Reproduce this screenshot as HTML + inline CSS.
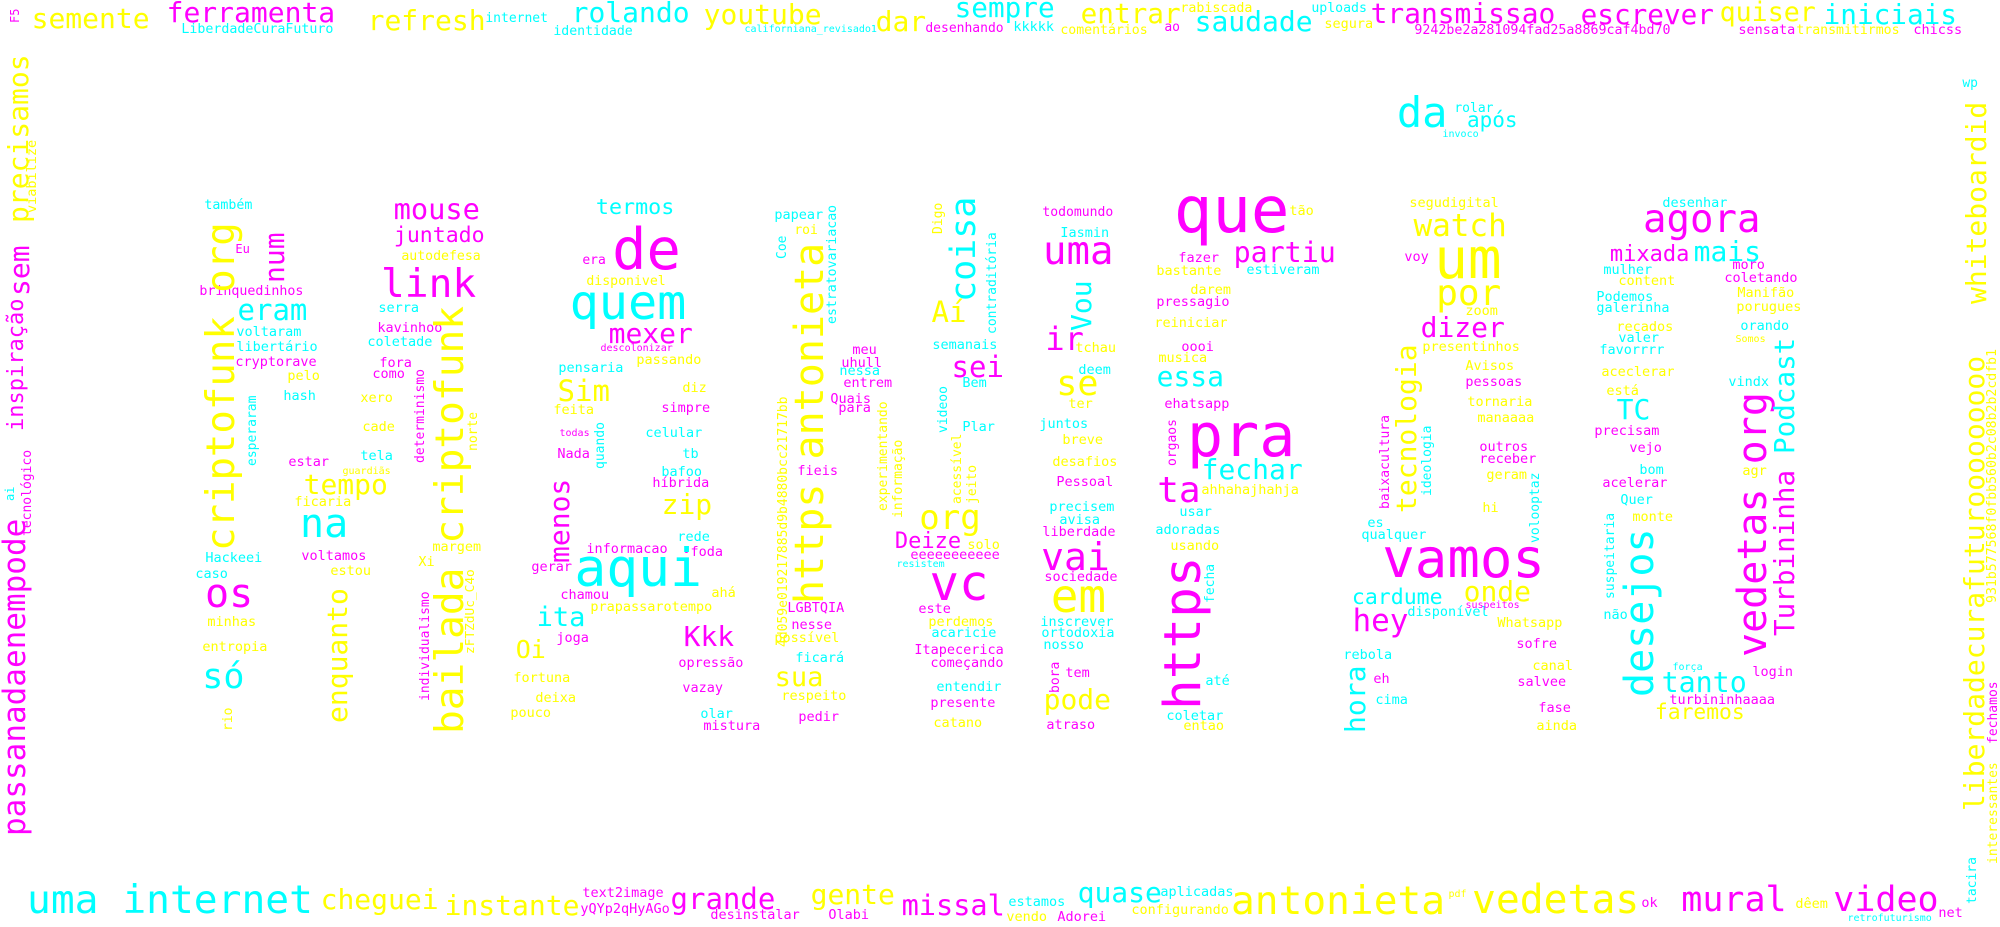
<!DOCTYPE html>
<html><head><meta charset="utf-8">
<style>
html,body{margin:0;padding:0;background:#fff;}
#cloud{position:relative;width:2000px;height:927px;overflow:hidden;background:#fff;font-family:"DejaVu Sans Mono","Liberation Mono",monospace;}
.w{position:absolute;white-space:nowrap;line-height:1;}
.v{transform-origin:0 0;transform:rotate(-90deg);}
</style></head>
<body>
<div id="cloud"></div>
<script>
const C={c:"#00ffff",m:"#ff00ff",y:"#ffff00"};
// horizontal words: text, left, baseline, font-size, colour
const hWords=[
["semente",33,29,28,"y"],["ferramenta",168,23,28,"m"],["refresh",369,31,28,"y"],["LiberdadeCuraFuturo",182,34,13.3,"c"],
["internet",486,23,13,"c"],["rolando",573,23,28,"c"],["identidade",554,36,13.2,"c"],["youtube",705,25,28,"y"],
["californiana_revisado1",745,33,10,"c"],["dar",877,32,28,"y"],["sempre",956,17,27.7,"c"],["desenhando",926,33,13,"m"],
["kkkkk",1014,32,13.5,"c"],["entrar",1082,23,27.7,"y"],["rabiscada",1181,13,13.3,"y"],["comentários",1061,35,13.2,"y"],
["ao",1165,32,13,"m"],["saudade",1196,32,28,"c"],["uploads",1312,13,13.2,"c"],["segura",1325,29,13.5,"y"],
["transmissao",1372,24,27.9,"m"],["9242be2a281094fad25a8869caf4bd70",1415,35,13.3,"m"],["escrever",1582,24,27.7,"m"],
["quiser",1721,22,26.6,"y"],["iniciais",1825,24,27.7,"c"],["sensata",1739,35,13.5,"m"],["transmitirmos",1797,35,13.2,"y"],
["chicss",1914,35,13.5,"m"],["wp",1963,88,13,"c"],
["também",205,210,13.3,"c"],["Eu",236,253,12,"m"],["brinquedinhos",200,296,13.3,"m"],["mouse",395,219,28.7,"m"],
["juntado",395,243,21.5,"m"],["autodefesa",402,261,13.2,"y"],["link",383,298,39.5,"m"],
["termos",597,215,21.7,"c"],["de",615,270,57,"m"],["era",583,265,13,"m"],["disponivel",587,286,13.2,"y"],["quem",572,320,48.5,"c"],
["papear",775,220,13.5,"c"],["roi",795,235,13,"y"],
["da",1399,128,42,"c"],["rolar",1455,113,13,"c"],["após",1468,128,21,"c"],["invoco",1443,138,10,"c"],
["que",1177,233,64,"m"],["todomundo",1043,217,13.1,"m"],["tão",1290,216,13.5,"y"],["Iasmin",1061,238,13.5,"c"],
["uma",1045,265,39,"m"],["fazer",1179,263,13.5,"m"],["partiu",1235,263,28.3,"m"],["bastante",1157,276,13.5,"y"],
["estiveram",1247,275,13.5,"c"],["darem",1191,295,13.5,"y"],["pressagio",1157,307,13.5,"m"],["segudigital",1410,208,13.5,"y"],
["watch",1415,237,31,"y"],["voy",1405,262,13.5,"m"],["um",1437,279,56,"y"],["por",1438,306,36,"y"],
["desenhar",1663,208,13.5,"c"],["agora",1645,233,39,"m"],["mixada",1611,263,22,"m"],["mais",1695,262,28,"c"],
["mulher",1604,275,13.5,"c"],["moro",1733,270,13.5,"m"],["content",1619,286,13.5,"y"],["coletando",1725,283,13.5,"m"],
["Podemos",1597,302,13.5,"c"],["Manifão",1738,298,13.5,"y"],["galerinha",1597,313,13.5,"c"],["porugues",1737,312,13.5,"y"],
["recados",1617,332,13.5,"y"],["valer",1619,343,13.5,"c"],["favorrrr",1600,355,13.5,"c"],["aceclerar",1602,377,13.5,"y"],
["está",1607,396,13.5,"y"],["TC",1618,420,28,"c"],["precisam",1595,436,13.5,"m"],["vejo",1630,453,13.5,"m"],["bom",1640,475,13.5,"c"],
["acelerar",1603,488,13.5,"m"],["Quer",1621,505,13.5,"c"],["monte",1633,522,13.5,"y"],["orando",1741,331,13.5,"c"],
["Somos",1736,343,10,"y"],["vindx",1729,387,13.5,"c"],["agr",1743,476,13.5,"y"],
["tanto",1663,693,28.3,"c"],["faremos",1656,720,21.3,"y"],["turbininhaaaa",1670,705,13.5,"m"],["força",1673,671,10,"c"],
["login",1753,677,13.5,"m"],["não",1604,620,13.5,"c"],["Whatsapp",1498,628,13.5,"y"],["sofre",1517,649,13.5,"m"],
["canal",1533,671,13.5,"y"],["salvee",1518,687,13.5,"m"],["fase",1539,713,13.5,"m"],["ainda",1537,731,13.5,"y"],
["disponível",1408,617,13.5,"c"],["suspeitos",1466,609,10,"m"],
["vedetas",1474,915,39.7,"y"],["pdf",1449,898,10,"y"],["ok",1642,908,13.5,"m"],["mural",1683,913,35,"m"],["dêem",1796,909,13.5,"y"],
["video",1835,913,35,"m"],["net",1939,918,13.5,"m"],["retrofuturismo",1848,922,10,"c"],
["grande",672,910,29,"m"],["gente",812,905,28,"y"],["missal",903,915,28.6,"m"],["estamos",1009,907,13.5,"c"],["quase",1079,903,28,"c"],
["aplicadas",1161,897,13.5,"c"],["configurando",1132,915,13.5,"y"],["antonieta",1233,915,39.5,"y"],["desinstalar",711,920,13.5,"m"],
["Olabi",829,920,13.5,"m"],["vendo",1007,922,13.5,"y"],["Adorei",1058,922,13.5,"m"],
["nesse",792,630,13.5,"m"],["possível",775,643,13.5,"y"],["ficará",796,663,13.5,"c"],["opressão",679,668,13.5,"m"],
["sua",776,687,27,"y"],["respeito",782,701,13.5,"y"],["vazay",683,693,13.5,"m"],["olar",701,719,13.5,"c"],["mistura",704,731,13.5,"m"],
["pedir",799,722,13.5,"m"],["perdemos",929,627,13.5,"y"],["acaricie",932,638,13.5,"c"],["Itapecerica",915,655,13.5,"m"],
["começando",931,668,13.5,"m"],["entendir",937,692,13.5,"c"],["presente",931,708,13.5,"m"],["catano",934,728,13.5,"y"],
["este",919,614,13.5,"m"],["inscrever",1041,627,13.5,"c"],["ortodoxia",1042,638,13.5,"c"],["nosso",1044,650,13.5,"c"],
["tem",1066,678,13.5,"m"],["pode",1045,710,28,"y"],["atraso",1047,730,13.5,"m"],["até",1206,686,13.5,"c"],
["coletar",1167,721,13.5,"c"],["entao",1184,731,13.5,"y"],["hey",1354,632,31,"m"],["rebola",1344,660,13.5,"c"],
["eh",1374,684,13.5,"m"],["cima",1376,705,13.5,"c"],["LGBTQIA",788,613,13.5,"m"],
["uma internet",29,915,39.6,"c"],["cheguei",322,910,28,"y"],["instante",446,916,28,"y"],["text2image",583,898,13.5,"m"],
["yQYp2qHyAGo",581,914,13.5,"m"],["minhas",208,627,13.5,"y"],["entropia",203,652,13.5,"y"],["só",204,690,35,"c"],
["ita",538,627,27,"c"],["Oi",517,658,25,"y"],["joga",557,643,13.5,"m"],["fortuna",514,683,13.5,"y"],["deixa",536,703,13.5,"y"],
["pouco",511,718,13.5,"y"],["prapassarotempo",591,612,13.5,"y"],["Kkk",685,647,28,"m"],
["eram",239,321,29,"c"],["voltaram",237,337,13.5,"c"],["libertário",237,352,13.5,"c"],["cryptorave",236,367,13.5,"m"],
["pelo",288,381,13.5,"y"],["hash",284,401,13.5,"c"],["estar",289,467,13.5,"m"],["tempo",305,495,28,"y"],["ficaria",295,507,13.5,"y"],
["na",302,538,40,"c"],["Hackeei",206,563,13.5,"c"],["caso",196,579,13.5,"c"],["voltamos",302,561,13.5,"m"],["estou",331,576,13.5,"y"],
["os",207,608,40,"m"],["serra",379,313,13.5,"c"],["kavinhoo",378,333,13.5,"m"],["coletade",368,347,13.5,"c"],["fora",380,368,13.5,"m"],
["como",373,379,13.5,"m"],["xero",361,403,13.5,"y"],["cade",363,432,13.5,"y"],["tela",361,461,13.5,"c"],["guardiãs",343,475,10,"y"],
["margem",433,552,13.5,"y"],["Xi",419,567,13.5,"y"],
["mexer",610,344,28,"m"],["descolonizar",601,352,10,"m"],["pensaria",559,373,13.5,"c"],["passando",637,365,13.5,"y"],
["Sim",559,402,29,"y"],["diz",683,393,13.5,"y"],["feita",554,415,13.5,"y"],["simpre",662,413,13.5,"m"],["todas",560,437,10,"m"],
["celular",646,438,13.5,"c"],["Nada",558,459,13.5,"m"],["tb",683,459,13.5,"c"],["bafoo",662,477,13.5,"c"],["híbrida",653,488,13.5,"m"],
["zip",663,515,28,"y"],["rede",678,542,13.5,"c"],["informacao",587,554,13.5,"m"],["•foda",683,557,13.5,"m"],["gerar",532,572,13.5,"m"],
["aqui",577,587,53,"c"],["chamou",561,600,13.5,"m"],["ahá",712,598,13.5,"y"],
["meu",853,355,13.5,"m"],["uhull",842,368,13.5,"m"],["nessa",840,376,13.5,"c"],["entrem",844,388,13.5,"m"],["Quais",831,404,13.5,"m"],
["para",839,413,13.5,"m"],["fieis",798,476,13.5,"m"],["semanais",933,350,13.5,"c"],["Aí",933,323,29,"y"],["sei",953,378,29,"m"],
["Bem",963,388,13.5,"c"],["Plar",963,432,13.5,"c"],["org",921,530,34,"y"],["Deize",896,550,22,"m"],["solo",968,550,13.5,"y"],
["eeeeeeeeeee",911,560,13.5,"m"],["resistem",897,568,10,"c"],["vc",932,600,49,"m"],
["ir",1047,350,32,"m"],["tchau",1076,353,13.5,"y"],["deem",1079,375,13.5,"c"],["se",1058,397,35,"y"],["ter",1069,409,13.5,"y"],
["juntos",1040,429,13.5,"c"],["breve",1063,445,13.5,"y"],["desafios",1053,467,13.5,"y"],["Pessoal",1057,487,13.5,"m"],
["precisem",1050,512,13.5,"c"],["avisa",1060,525,13.5,"c"],["liberdade",1043,537,13.5,"m"],["vai",1043,570,38,"m"],
["sociedade",1045,582,13.5,"m"],["em",1053,612,46,"y"],["reiniciar",1155,328,13.5,"y"],["oooi",1182,352,13.5,"m"],
["musica",1159,363,13.5,"y"],["essa",1158,387,28,"c"],["ehatsapp",1165,409,13.5,"m"],["pra",1190,457,60,"m"],
["fechar",1203,480,28,"c"],["ta",1159,503,36,"m"],["ahhahajhahja",1202,495,13.5,"y"],["usar",1180,517,13.5,"c"],
["adoradas",1156,535,13.5,"c"],["usando",1171,551,13.5,"y"],["dizer",1422,338,28,"m"],["zoom",1466,316,13.5,"y"],
["presentinhos",1423,352,13.5,"y"],["Avisos",1466,371,13.5,"y"],["pessoas",1466,387,13.5,"m"],["tornaria",1468,407,13.5,"y"],
["manaaaa",1478,423,13.5,"y"],["outros",1480,452,13.5,"m"],["receber",1480,464,13.5,"m"],["geram",1487,480,13.5,"y"],
["hi",1483,513,13.5,"y"],["es",1368,528,13.5,"c"],["qualquer",1362,540,13.5,"c"],["vamos",1385,578,54,"m"],
["cardume",1353,605,21.5,"c"],["onde",1465,602,28,"y"]
];
// vertical words (read bottom to top): text, left, bottom, font-size, colour
const vWords=[
["F5",10,22,12,"m"],["precisamos",7,222,28,"y"],["viabilize",27,212,13.5,"y"],["criptofunk org",205,549,39,"y"],["num",263,282,28,"m"],
["sem",8,295,28,"m"],["inspiração",8,430,22,"m"],["ai",5,500,12,"c"],["tecnológico",22,535,13,"m"],["passanadaenempode",3,834,31,"m"],
["Coe",777,258,13,"c"],["https antonieta",793,602,40,"y"],["estratovariacao",827,323,13.2,"c"],["Digo",933,233,13,"y"],
["coisa",950,300,35,"c"],["contraditória",987,333,13,"c"],["whiteboardid",1965,303,28,"y"],
["vedetas org",1736,655,40,"m"],["Podcast",1773,453,27.6,"c"],["Turbininha",1773,635,27.6,"m"],
["liberdadecurafuturooooooooo",1963,810,28,"y"],["931b577568f0fbb560b2c08b2b2cdfb1",1987,602,13.2,"y"],
["suspeitaria",1605,598,13,"c"],["volooptaz",1530,542,13,"c"],["desejos",1623,695,40,"c"],
["fechamos",1988,743,13,"m"],["interessantes",1988,863,13,"y"],["tacira",1967,903,13,"c"],
["4d059e019217885d9b4880bcc21717bb",778,646,13,"y"],["bora",1050,692,13,"m"],["https",1162,707,51,"m"],["hora",1344,732,28,"c"],
["rio",223,730,13,"y"],["enquanto",326,722,28,"y"],["individualismo",420,700,13,"m"],["bailada criptofunk",434,732,39.5,"y"],
["zFTZdUc_C4o",466,653,12.8,"y"],["esperaram",247,465,13,"c"],["determinismo",415,462,13,"m"],["norte",468,450,13,"y"],
["quando",595,468,13,"c"],["menos",548,562,28,"m"],["experimentando",878,510,13,"y"],["informação",893,517,13,"y"],
["videoo",938,432,13,"c"],["acessível",952,503,13,"y"],["jeito",967,503,13,"y"],["Vou",1070,330,28,"c"],
["orgaos",1167,465,13,"m"],["fecha",1205,602,13,"c"],["baixacultura",1380,508,13,"m"],["ideologia",1422,495,13,"c"],
["tecnologia",1395,512,28,"y"]
];
const cloud=document.getElementById('cloud');
function slug(t){return t.toLowerCase().normalize('NFD').replace(/[^a-z0-9]+/g,'-').replace(/^-|-$/g,'').slice(0,30)||'word';}
hWords.forEach(function(w){
  const el=document.createElement('div');
  el.className='w';
  el.textContent=w[0];
  el.style.fontSize=w[3]+'px';
  el.style.left=(w[1]-0.05*w[3])+'px';
  el.style.top=(w[2]-0.846*w[3])+'px';
  el.style.color=C[w[4]];
  
  
  cloud.appendChild(el);
});
vWords.forEach(function(w){
  const el=document.createElement('div');
  el.className='w v';
  el.textContent=w[0];
  el.style.fontSize=w[3]+'px';
  el.style.left=(w[1]-0.086*w[3])+'px';
  el.style.top=(w[2]+0.05*w[3])+'px';
  el.style.color=C[w[4]];
  
  
  cloud.appendChild(el);
});
</script>
</body></html>
